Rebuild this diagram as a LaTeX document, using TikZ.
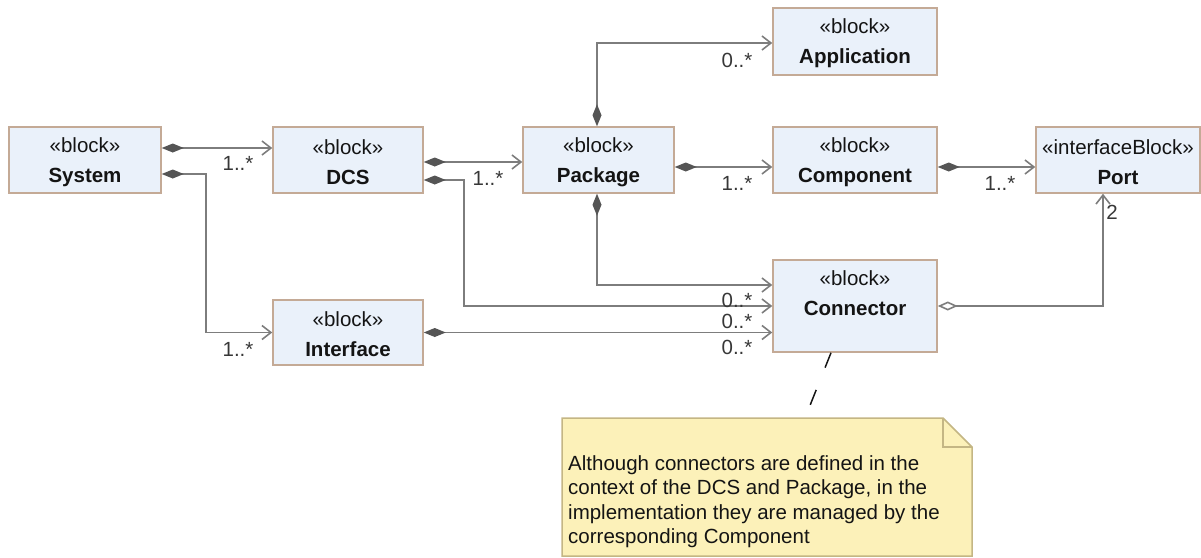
\documentclass[tikz,border=0pt]{standalone}
\usepackage{fontspec}
\setmainfont{Liberation Sans}
\usetikzlibrary{arrows.meta,calc}
\definecolor{blockfill}{RGB}{234,241,250}
\definecolor{blockdraw}{RGB}{196,170,150}
\definecolor{edgegray}{RGB}{125,125,125}
\definecolor{diagray}{RGB}{85,85,85}
\definecolor{notefill}{RGB}{252,241,185}
\definecolor{notedraw}{RGB}{196,182,132}
\definecolor{txt}{RGB}{20,20,20}
\newcommand\blkstrut{\rule{0pt}{19pt}}
\begin{document}
\begin{tikzpicture}[x=1pt,y=-1pt,
  blk/.style={draw=blockdraw, line width=1.5pt, fill=blockfill, inner sep=0pt,
    align=center, text=txt, font=\fontsize{20.5}{30}\selectfont},
  comp/.style={draw=edgegray, line width=1.6pt,
    {Diamond[length=22pt,width=9pt,fill=diagray,color=diagray]}-{Straight Barb[length=9pt,width=14pt]}},
  aggr/.style={draw=edgegray, line width=1.6pt,
    {Diamond[open,length=20pt,width=9pt,fill=white]}-{Straight Barb[length=9pt,width=14pt]}},
  mult/.style={inner sep=0pt, text=txt!85!white, font=\fontsize{20.5}{24}\selectfont},
  notetext/.style={inner sep=0pt, align=left, text=txt, font=\fontsize{20.5}{24.6}\selectfont},
  notelink/.style={draw=txt, line width=1.5pt, dash pattern=on 16pt off 24pt}
]
\useasboundingbox (0,0) rectangle (1201,557);

% blocks
\node[blk, minimum width=152pt, minimum height=66pt] (System) at (85,160) {\blkstrut«block»\\\textbf{System}};
\node[blk, minimum width=150pt, minimum height=66pt] (DCS) at (348,160) {\blkstrut«block»\\\textbf{DCS}};
\node[blk, minimum width=151pt, minimum height=66pt] (Package) at (598.5,160) {\blkstrut«block»\\\textbf{Package}};
\node[blk, minimum width=164pt, minimum height=66pt] (Component) at (855,160) {\blkstrut«block»\\\textbf{Component}};
\node[blk, minimum width=164pt, minimum height=66pt] (Port) at (1118,160) {\blkstrut«interfaceBlock»\\\textbf{Port}};
\node[blk, minimum width=164pt, minimum height=67pt] (Application) at (855,41.5) {\blkstrut«block»\\\textbf{Application}};
\node[blk, minimum width=164pt, minimum height=92pt] (Connector) at (855,306) {\blkstrut«block»\\\textbf{Connector}\\\mbox{}};
\node[blk, minimum width=150pt, minimum height=65pt] (Interface) at (348,332.5) {\blkstrut«block»\\\textbf{Interface}};

% note
\path[draw=notedraw, fill=notefill, line width=1.5pt]
  (562,418) -- (943,418) -- (972,447) -- (972,556) -- (562,556) -- cycle;
\draw[notedraw, line width=1.5pt] (943,418) -- (943,447) -- (972,447);
\node[notetext, anchor=north west] (note) at (568,455)
  {Although connectors are defined in the\\context of the DCS and Package, in the\\implementation they are managed by the\\corresponding Component};
\coordinate (notetop) at (805,418);

% connectors
\draw[comp] ([yshift=12pt]System.east) -- ([yshift=12pt]DCS.west);
\draw[comp] ([yshift=-14pt]System.east) -| ([xshift=-66pt]Interface.west) -- (Interface.west);
\draw[comp] ([yshift=-2pt]DCS.east) -- ([yshift=-2pt]Package.west);
\draw[comp] ([yshift=-20pt]DCS.east) -| ([xshift=-308pt]Connector.west) -- (Connector.west);
\draw[comp] ([xshift=-1.5pt]Package.north) |- ([yshift=-1.5pt]Application.west);
\draw[comp] ([yshift=-7pt]Package.east) -- ([yshift=-7pt]Component.west);
\draw[comp] ([xshift=-1.5pt]Package.south) |- ([yshift=21pt]Connector.west);
\draw[comp] ([yshift=-7pt]Component.east) -- ([yshift=-7pt]Port.west);
\draw[comp] (Interface.east) -- (Interface.east -| Connector.west);
\draw[aggr] (Connector.east) -| ([xshift=-15pt]Port.south);
\draw[notelink] ([xshift=-24pt]Connector.south) -- (notetop);

% multiplicities
\node[mult] (m1) at (238,163) {1..*};
\node[mult] (m2) at (238,349) {1..*};
\node[mult] (m3) at (488,178) {1..*};
\node[mult] (m4) at (737,60) {0..*};
\node[mult] (m5) at (737,183) {1..*};
\node[mult] (m6) at (1000,183) {1..*};
\node[mult] (m7) at (737,300) {0..*};
\node[mult] (m8) at (737,321) {0..*};
\node[mult] (m9) at (737,347) {0..*};
\node[mult] (m10) at (1112,212) {2};
\end{tikzpicture}
\end{document}
